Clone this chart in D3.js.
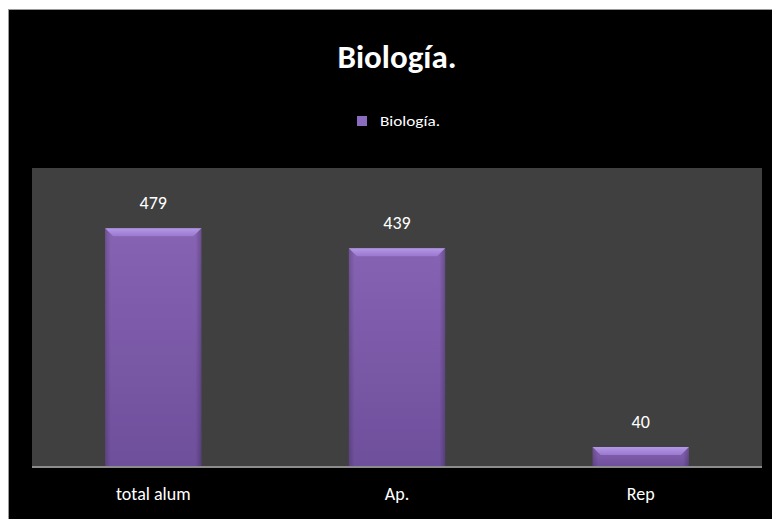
<!DOCTYPE html>
<html>
<head>
<meta charset="utf-8">
<script src="https://cdn.jsdelivr.net/npm/d3@7"></script>
<style>
  html, body { margin: 0; padding: 0; background: #fff; }
  svg { display: block; }
</style>
</head>
<body>
<div id="chart"></div>
<script>
// Chart data
const categories = ['total alum', 'Ap.', 'Rep'];
const values = [479, 439, 40];
const seriesName = 'Biología.';
const titleText = 'Biología.';
const yMax = 600;

const width = 772, height = 519;
const font = 'Calibri, "Open Sans", "Noto Sans", sans-serif';

const svg = d3.select('#chart').append('svg')
  .attr('width', width)
  .attr('height', height);

// gradients for the bevelled bars
const defs = svg.append('defs');
const body = defs.append('linearGradient')
  .attr('id', 'barBody').attr('x1', 0).attr('y1', 0).attr('x2', 0).attr('y2', 1);
body.append('stop').attr('offset', '0%').attr('stop-color', '#8763b3');
body.append('stop').attr('offset', '100%').attr('stop-color', '#6e4f9c');
const side = defs.append('linearGradient')
  .attr('id', 'barSide').attr('x1', 0).attr('y1', 0).attr('x2', 1).attr('y2', 0);
side.append('stop').attr('offset', '0%').attr('stop-color', '#000').attr('stop-opacity', 0.18);
side.append('stop').attr('offset', '6%').attr('stop-color', '#000').attr('stop-opacity', 0);
side.append('stop').attr('offset', '94%').attr('stop-color', '#000').attr('stop-opacity', 0);
side.append('stop').attr('offset', '100%').attr('stop-color', '#000').attr('stop-opacity', 0.22);
const bevel = defs.append('linearGradient')
  .attr('id', 'barBevel').attr('x1', 0).attr('y1', 0).attr('x2', 0).attr('y2', 1);
bevel.append('stop').attr('offset', '0%').attr('stop-color', '#b498e6');
bevel.append('stop').attr('offset', '100%').attr('stop-color', '#9a78cf');

// outer chart background (runs off the right and bottom edges)
svg.append('rect')
  .attr('x', 8.5).attr('y', 9.5)
  .attr('width', width + 10).attr('height', height + 10)
  .attr('fill', '#000')
  .attr('stroke', '#9a9a9a').attr('stroke-width', 1);

const plot = { left: 32, right: 762, top: 168, bottom: 467 };

svg.append('rect')
  .attr('x', plot.left).attr('y', plot.top)
  .attr('width', plot.right - plot.left).attr('height', plot.bottom - plot.top)
  .attr('fill', '#404040');

const x = d3.scaleBand()
  .domain(categories)
  .range([plot.left, plot.right])
  .paddingInner(0.605)
  .paddingOuter(0.3);

const y = d3.scaleLinear()
  .domain([0, yMax])
  .range([plot.bottom, plot.top]);

// title
svg.append('text')
  .attr('x', 397).attr('y', 68)
  .attr('text-anchor', 'middle')
  .attr('font-family', font)
  .attr('font-weight', 'bold')
  .attr('font-size', 33)
  .attr('fill', '#fff')
  .attr('textLength', 119)
  .attr('lengthAdjust', 'spacingAndGlyphs')
  .text(titleText);

// legend
svg.append('rect')
  .attr('x', 357).attr('y', 116)
  .attr('width', 10).attr('height', 10)
  .attr('fill', '#8a6bbd');
svg.append('text')
  .attr('x', 380).attr('y', 126)
  .attr('font-family', font)
  .attr('font-size', 14)
  .attr('fill', '#fff')
  .attr('textLength', 60)
  .attr('lengthAdjust', 'spacingAndGlyphs')
  .text(seriesName);

// bars
const bars = svg.append('g').selectAll('g')
  .data(values)
  .enter().append('g');

bars.append('rect')
  .attr('x', (d, i) => x(categories[i]))
  .attr('y', d => y(d))
  .attr('width', x.bandwidth())
  .attr('height', d => y(0) - y(d))
  .attr('fill', 'url(#barBody)');

bars.append('rect')
  .attr('x', (d, i) => x(categories[i]))
  .attr('y', d => y(d))
  .attr('width', x.bandwidth())
  .attr('height', d => y(0) - y(d))
  .attr('fill', 'url(#barSide)');

bars.append('path')
  .attr('d', (d, i) => {
    const x0 = x(categories[i]), x1 = x0 + x.bandwidth(), t = y(d), b = 8;
    return `M${x0},${t}L${x1},${t}L${x1 - b},${t + b}L${x0 + b},${t + b}Z`;
  })
  .attr('fill', 'url(#barBevel)');

// data labels
bars.append('text')
  .attr('x', (d, i) => x(categories[i]) + x.bandwidth() / 2)
  .attr('y', d => y(d) - 19)
  .attr('text-anchor', 'middle')
  .attr('font-family', font)
  .attr('font-size', 18)
  .attr('fill', '#fff')
  .text(d => d);

// x axis
const xAxis = svg.append('g')
  .attr('transform', `translate(0,${plot.bottom})`)
  .call(d3.axisBottom(x).tickSize(0).tickPadding(20));
xAxis.select('.domain')
  .attr('stroke', '#8c8c8c')
  .attr('stroke-width', 2)
  .attr('d', `M${plot.left},0H${plot.right}`);
xAxis.selectAll('text')
  .attr('font-family', font)
  .attr('font-size', 18)
  .attr('fill', '#fff');
</script>
</body>
</html>
